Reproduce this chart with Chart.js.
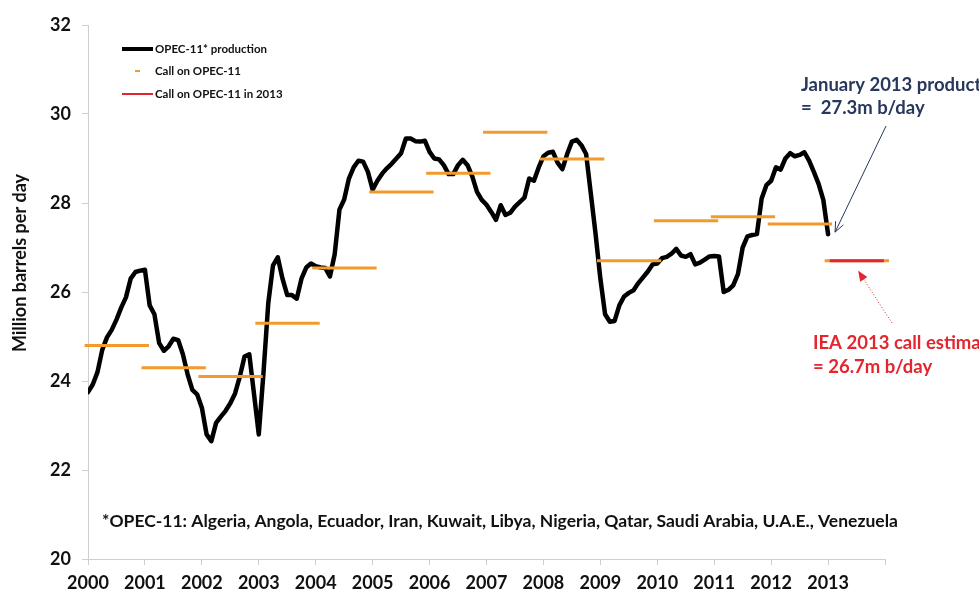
<!DOCTYPE html>
<html>
<head>
<meta charset="utf-8">
<script src="https://cdn.jsdelivr.net/npm/chart.js@4/dist/chart.umd.min.js"></script>
<style>
  html, body { margin: 0; padding: 0; background: #fff; }
  #wrap { width: 979px; height: 592px; position: relative; }
</style>
</head>
<body>
<div id="wrap"><canvas id="chart" width="979" height="592"></canvas></div>
<script>
// Data
const startYear = 2000;
// monthly OPEC-11 production, Jan 2000 .. Jan 2013 (m b/d)
const production = [
  23.75, 23.92, 24.2, 24.7, 24.98, 25.15, 25.38, 25.65, 25.88, 26.3, 26.45, 26.48,
  26.5, 25.7, 25.5, 24.85, 24.68, 24.78, 24.95, 24.92, 24.6, 24.15, 23.8, 23.7,
  23.4, 22.8, 22.65, 23.06, 23.2, 23.33, 23.5, 23.72, 24.1, 24.55, 24.6, 23.7,
  22.8, 24.2, 25.75, 26.6, 26.78, 26.3, 25.93, 25.93, 25.85, 26.3, 26.55, 26.64,
  26.58, 26.55, 26.54, 26.35, 26.85, 27.85, 28.08, 28.55, 28.8, 28.95, 28.93, 28.7,
  28.3, 28.5, 28.66, 28.78, 28.88, 29.0, 29.12, 29.45, 29.45, 29.39, 29.38, 29.4,
  29.15, 29.0, 28.98, 28.85, 28.65, 28.65, 28.85, 28.97, 28.85, 28.6, 28.25, 28.07,
  27.96, 27.8, 27.62, 27.95, 27.73, 27.78, 27.92, 28.02, 28.12, 28.55, 28.5, 28.8,
  29.05, 29.13, 29.15, 28.9, 28.76, 29.1, 29.38, 29.42, 29.3, 29.1, 28.2, 27.3,
  26.3, 25.5, 25.33, 25.35, 25.7, 25.9, 25.98, 26.04, 26.2, 26.33, 26.46, 26.62,
  26.64, 26.76, 26.79, 26.86, 26.97, 26.82, 26.79, 26.85, 26.62, 26.66, 26.73, 26.8,
  26.81, 26.8, 26.0, 26.05, 26.15, 26.4, 27.0, 27.25, 27.28, 27.3, 28.1, 28.4,
  28.5, 28.8, 28.75, 29.0, 29.12, 29.05, 29.08, 29.14, 28.95, 28.7, 28.43, 28.07,
  27.3
];
const callYears = [2000, 2001, 2002, 2003, 2004, 2005, 2006, 2007, 2008, 2009, 2010, 2011, 2012, 2013];
const callValues = [24.8, 24.3, 24.1, 25.3, 26.54, 28.25, 28.67, 29.59, 28.99, 26.7, 27.6, 27.69, 27.53, 26.7];
const call2013 = 26.7;
const xTicks = [2000, 2001, 2002, 2003, 2004, 2005, 2006, 2007, 2008, 2009, 2010, 2011, 2012, 2013];

const FONT = 'Lato, "Open Sans", sans-serif';
const ORANGE = '#f39a2c';
const RED = '#e3262e';
const NAVY = '#27385c';

const prodPoints = production.map((v, i) => ({ x: startYear + i / 12, y: v }));
const callPoints = [];
callYears.forEach((yr, i) => {
  callPoints.push({ x: yr - 0.06, y: callValues[i] });
  callPoints.push({ x: yr + 1.07, y: callValues[i] });
  callPoints.push({ x: yr + 1.07, y: null });
});
const call2013Points = [{ x: 2013.03, y: call2013 }, { x: 2013.98, y: call2013 }];

function arrowHead(ctx, x1, y1, x2, y2, size, filled) {
  const a = Math.atan2(y2 - y1, x2 - x1);
  ctx.beginPath();
  ctx.moveTo(x2 - size * Math.cos(a - 0.4), y2 - size * Math.sin(a - 0.4));
  ctx.lineTo(x2, y2);
  ctx.lineTo(x2 - size * Math.cos(a + 0.4), y2 - size * Math.sin(a + 0.4));
  if (filled) { ctx.closePath(); ctx.fill(); } else ctx.stroke();
}

// text, legend and arrows
const decorations = {
  id: 'decorations',
  afterDraw(chart) {
    const ctx = chart.ctx;
    const xs = chart.scales.x, ys = chart.scales.y;
    ctx.save();

    // y title
    ctx.save();
    ctx.translate(20, 263);
    ctx.rotate(-Math.PI / 2);
    ctx.font = 'bold 18px ' + FONT;
    ctx.fillStyle = '#111';
    ctx.textAlign = 'center';
    ctx.textBaseline = 'middle';
    ctx.fillText('Million barrels per day', 0, 0);
    ctx.restore();

    // legend
    const lx = 122, lw = 31;
    ctx.lineCap = 'butt';
    ctx.strokeStyle = '#000'; ctx.lineWidth = 4;
    ctx.beginPath(); ctx.moveTo(lx, 49); ctx.lineTo(lx + lw, 49); ctx.stroke();
    ctx.strokeStyle = ORANGE; ctx.lineWidth = 2;
    ctx.beginPath(); ctx.moveTo(135, 71); ctx.lineTo(140, 71); ctx.stroke();
    ctx.strokeStyle = RED; ctx.lineWidth = 2;
    ctx.beginPath(); ctx.moveTo(lx, 94); ctx.lineTo(lx + lw, 94); ctx.stroke();
    ctx.font = 'bold 11.5px ' + FONT;
    ctx.fillStyle = '#111';
    ctx.textAlign = 'left';
    ctx.textBaseline = 'middle';
    chart.data.datasets.slice().reverse().forEach((ds, i) => {
      ctx.fillText(ds.label, 155, [49, 71, 94][i]);
    });

    // footnote
    ctx.font = 'bold 17.5px ' + FONT;
    ctx.fillStyle = '#111';
    ctx.fillText('*OPEC-11: Algeria, Angola, Ecuador, Iran, Kuwait, Libya, Nigeria, Qatar, Saudi Arabia, U.A.E., Venezuela', 102, 521);

    // January 2013 note
    ctx.font = 'bold 18.5px ' + FONT;
    ctx.fillStyle = NAVY;
    ctx.fillText('January 2013 production', 801, 85);
    ctx.fillText('=  27.3m b/day', 801, 108);
    const tipX = xs.getPixelForValue(2013) + 7, tipY = ys.getPixelForValue(27.3) - 2;
    ctx.strokeStyle = NAVY; ctx.lineWidth = 1;
    ctx.beginPath(); ctx.moveTo(886, 126); ctx.lineTo(tipX, tipY); ctx.stroke();
    arrowHead(ctx, 886, 126, tipX, tipY, 11, false);

    // IEA note
    ctx.fillStyle = RED;
    ctx.fillText('IEA 2013 call estimate', 813, 343);
    ctx.fillText('= 26.7m b/day', 813, 367);
    const rX = xs.getPixelForValue(2013.53), rY = ys.getPixelForValue(call2013) + 10;
    ctx.strokeStyle = RED; ctx.lineWidth = 1;
    ctx.setLineDash([1, 2]);
    ctx.beginPath(); ctx.moveTo(892, 323); ctx.lineTo(rX, rY); ctx.stroke();
    ctx.setLineDash([]);
    arrowHead(ctx, 892, 323, rX, rY, 11, true);

    ctx.restore();
  }
};

const axisGrey = '#cfcfcf';
new Chart(document.getElementById('chart').getContext('2d'), {
  type: 'line',
  data: {
    datasets: [
      { label: 'Call on OPEC-11 in 2013', data: call2013Points, borderColor: RED, borderWidth: 3,
        pointRadius: 0, tension: 0, order: 0, clip: 8 },
      { label: 'Call on OPEC-11', data: callPoints, borderColor: ORANGE, borderWidth: 3,
        pointRadius: 0, tension: 0, spanGaps: false, order: 1, clip: 8 },
      { label: 'OPEC-11* production', data: prodPoints, borderColor: '#000', borderWidth: 4.5,
        pointRadius: 0, tension: 0, borderJoinStyle: 'round', borderCapStyle: 'round', order: 2 }
    ]
  },
  options: {
    responsive: false,
    animation: false,
    layout: { padding: { left: 0, top: 25, right: 94, bottom: 0 } },
    plugins: { legend: { display: false }, tooltip: { enabled: false } },
    scales: {
      x: {
        type: 'linear', min: 2000, max: 2014,
        afterFit: s => { s.height = 33; },
        afterBuildTicks: s => { s.ticks = xTicks.concat([2014]).map(v => ({ value: v })); },
        ticks: {
          autoSkip: false, maxRotation: 0, padding: 7, color: '#111',
          font: { family: FONT, size: 18, weight: 'bold' },
          callback: v => xTicks.includes(v) ? String(v) : ''
        },
        grid: { drawOnChartArea: false, tickLength: 6, color: axisGrey },
        border: { color: axisGrey, width: 1 }
      },
      y: {
        min: 20, max: 32,
        afterFit: s => { s.width = 88; },
        ticks: { stepSize: 2, padding: 11, color: '#111', font: { family: FONT, size: 18, weight: 'bold' } },
        grid: { drawOnChartArea: false, tickLength: 6, color: axisGrey },
        border: { color: axisGrey, width: 1 }
      }
    }
  },
  plugins: [decorations]
});
</script>
</body>
</html>
